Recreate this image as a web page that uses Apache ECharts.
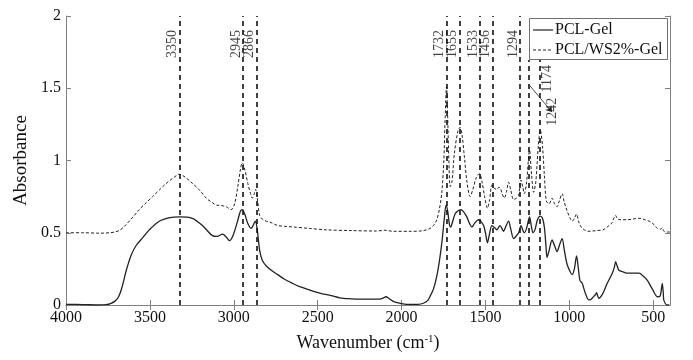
<!DOCTYPE html>
<html>
<head>
<meta charset="utf-8">
<script src="https://cdn.jsdelivr.net/npm/echarts@6/dist/echarts.min.js"></script>
<style>html,body{margin:0;padding:0;background:#fff}#c{width:693px;height:360px}</style>
</head>
<body>
<div id="c"></div>
<script>
// PCL-Gel (solid)
var pclWave = [4000,3900,3800,3760,3735,3710,3690,3675,3660,3643,3625,3610,3583,3540,3504,3444,3380,3325,3247,3187,3127,3100,3067,3045,3026,3005,2980,2960,2950,2935,2915,2896,2885,2872,2860,2846,2830,2806,2770,2738,2700,2650,2607,2550,2488,2420,2368,2300,2249,2180,2129,2110,2093,2075,2050,2000,1970,1900,1870,1845,1830,1810,1790,1775,1760,1745,1735,1725,1715,1707,1695,1681,1665,1647,1630,1611,1595,1581,1565,1541,1525,1511,1500,1488,1478,1462,1450,1440,1432,1420,1412,1400,1392,1380,1362,1350,1332,1315,1302,1288,1278,1268,1255,1237,1227,1217,1205,1190,1173,1160,1149,1140,1133,1120,1103,1088,1073,1060,1043,1030,1013,995,983,970,957,947,937,923,915,904,884,870,854,845,838,830,824,800,774,744,732,724,715,704,680,654,620,585,560,535,505,475,460,450,446,440,436,416,405];
var pclAbs = [0.005,0.003,0.0,0.003,0.01,0.025,0.05,0.09,0.15,0.23,0.3,0.35,0.41,0.47,0.52,0.58,0.605,0.61,0.60,0.55,0.48,0.475,0.49,0.47,0.445,0.48,0.57,0.65,0.66,0.63,0.56,0.53,0.55,0.58,0.52,0.38,0.31,0.27,0.235,0.21,0.18,0.15,0.127,0.105,0.083,0.065,0.05,0.043,0.04,0.04,0.041,0.048,0.057,0.045,0.025,0.01,0.005,0.005,0.012,0.03,0.06,0.11,0.2,0.3,0.43,0.6,0.69,0.65,0.56,0.54,0.58,0.63,0.65,0.66,0.645,0.61,0.565,0.54,0.565,0.59,0.575,0.55,0.5,0.43,0.48,0.55,0.54,0.53,0.52,0.54,0.55,0.525,0.51,0.54,0.58,0.53,0.46,0.48,0.5,0.55,0.52,0.5,0.53,0.61,0.55,0.5,0.52,0.59,0.615,0.6,0.54,0.42,0.33,0.38,0.45,0.41,0.37,0.41,0.46,0.38,0.28,0.23,0.21,0.25,0.34,0.26,0.17,0.15,0.12,0.08,0.035,0.04,0.06,0.07,0.085,0.06,0.046,0.08,0.15,0.22,0.26,0.30,0.27,0.24,0.23,0.22,0.22,0.22,0.2,0.17,0.11,0.057,0.06,0.12,0.15,0.08,0.03,0.0,0.0];
// PCL/WS2%-Gel (dashed)
var wsWave = [4000,3900,3800,3740,3710,3683,3660,3643,3600,3564,3520,3484,3440,3404,3360,3325,3290,3245,3200,3165,3130,3100,3085,3060,3045,3016,2995,2976,2960,2950,2935,2916,2900,2890,2878,2870,2860,2846,2830,2806,2787,2738,2700,2647,2550,2448,2300,2150,2099,2050,1950,1890,1850,1830,1810,1790,1775,1760,1748,1740,1732,1725,1718,1710,1700,1685,1665,1652,1640,1625,1610,1591,1575,1555,1536,1520,1505,1488,1475,1462,1450,1432,1420,1412,1400,1388,1375,1362,1350,1332,1315,1302,1288,1278,1268,1255,1237,1225,1213,1200,1185,1173,1160,1149,1137,1120,1103,1088,1073,1060,1043,1030,1013,995,983,970,957,945,930,910,890,860,838,800,774,745,735,724,715,704,654,620,585,550,515,490,475,455,446,436,416,400];
var wsAbs = [0.5,0.5,0.497,0.5,0.505,0.515,0.535,0.555,0.61,0.66,0.71,0.75,0.8,0.84,0.88,0.905,0.885,0.84,0.79,0.74,0.71,0.69,0.69,0.685,0.68,0.66,0.7,0.82,0.94,0.985,0.94,0.84,0.77,0.74,0.77,0.80,0.74,0.62,0.595,0.58,0.575,0.55,0.545,0.54,0.53,0.52,0.515,0.512,0.517,0.51,0.51,0.512,0.52,0.53,0.55,0.59,0.66,0.78,1.0,1.3,1.51,1.3,1.0,0.82,0.85,1.05,1.2,1.23,1.18,1.02,0.85,0.75,0.8,0.88,0.91,0.85,0.75,0.67,0.73,0.83,0.81,0.80,0.815,0.81,0.77,0.74,0.78,0.85,0.8,0.73,0.74,0.76,0.865,0.82,0.77,0.85,1.07,0.9,0.78,0.85,1.1,1.21,1.1,0.9,0.72,0.70,0.74,0.70,0.68,0.72,0.77,0.71,0.65,0.6,0.58,0.6,0.63,0.58,0.54,0.52,0.51,0.512,0.515,0.52,0.54,0.57,0.60,0.62,0.6,0.59,0.59,0.595,0.60,0.59,0.575,0.55,0.53,0.525,0.535,0.51,0.505,0.505];

// Peak marker lines
var peakPos = [3325,2945,2866,1732,1655,1533,1456,1294,1242,1174];
var peakLabels = ['3350','2945','2866','1732','1655','1533','1456','1294','1242','1174'];
var peakTop = [2,2,2,2,2,2,2,2,1.695,1.695];
// label anchors (wavenumber, absorbance, side)
var labelX = [3325,2945,2866,1732,1655,1533,1456,1294,1142,1174];
var labelY = [1.917,1.917,1.917,1.917,1.917,1.917,1.917,1.917,1.42,1.647];
var labelSide = ['left','left','left','left','left','left','left','left','right','right'];
// arrow from 1242 line to its label
var arrowFrom = [1237, 1.52];
var arrowTo = [1103, 1.335];

var xTicks = [4000,3500,3000,2500,2000,1500,1000,500];
var seriesNames = ['PCL-Gel','PCL/WS2%-Gel'];

function pairs(a,b){return a.map(function(v,i){return [v,b[i]];});}

var FONT = 'Liberation Serif';
var chart = echarts.init(document.getElementById('c'));

var peakMarkData = peakPos.map(function(p,i){
  return [{coord:[p,0]},{coord:[p,peakTop[i]]}];
});
var labelData = labelX.map(function(x,i){
  var left = labelSide[i]==='left';
  return {value:[x,labelY[i]], label:{
    show:true, formatter:peakLabels[i], rotate:90, position:[0,0],
    align:'right', verticalAlign: left ? 'bottom':'top',
    offset: left ? [-2,0] : [2,0]
  }};
});

var axisLineStyle = {color:'#808080', width:1};
var option = {
  animation:false,
  backgroundColor:'#fff',
  grid:{left:66, right:23, top:16, bottom:55, containLabel:false},
  graphic:[
    {type:'rect', shape:{x:529.5, y:18.5, width:138, height:41}, style:{fill:'#fff', stroke:'#707070', lineWidth:1}, z:10},
    {type:'line', shape:{x1:533, y1:30, x2:553, y2:30}, style:{stroke:'#222', lineWidth:1.2}, z:11},
    {type:'line', shape:{x1:533, y1:50, x2:553, y2:50}, style:{stroke:'#222', lineWidth:1, lineDash:[3,2]}, z:11},
    {type:'text', x:555, y:30, style:{text:seriesNames[0], font:'16px "Liberation Serif"', fill:'#111', verticalAlign:'middle'}, z:11},
    {type:'text', x:555, y:50, style:{text:seriesNames[1], font:'16px "Liberation Serif"', fill:'#111', verticalAlign:'middle'}, z:11}
  ],
  xAxis:[{
    type:'value', inverse:true, min:400, max:4000,
    axisLine:{show:true, lineStyle:axisLineStyle, onZero:false},
    axisTick:{show:true, inside:true, length:5, customValues:xTicks, lineStyle:axisLineStyle},
    axisLabel:{customValues:xTicks, formatter:function(v){return String(v);}, fontFamily:FONT, fontSize:16, color:'#111', margin:5},
    splitLine:{show:false},
    name:'Wavenumber (cm{sup|-1})', nameLocation:'middle', nameGap:29,
    nameTextStyle:{fontFamily:FONT, fontSize:18, color:'#111',
      rich:{sup:{fontFamily:FONT, fontSize:11, color:'#111', verticalAlign:'top', padding:[0,0,8,0]}}}
  },{
    type:'value', inverse:true, min:400, max:4000, position:'top',
    axisLine:{show:true, lineStyle:axisLineStyle},
    axisTick:{show:true, inside:true, length:5, customValues:xTicks, lineStyle:axisLineStyle},
    axisLabel:{show:false}, splitLine:{show:false}
  }],
  yAxis:[{
    type:'value', min:0, max:2, interval:0.5,
    axisLine:{show:true, lineStyle:axisLineStyle, onZero:false},
    axisTick:{show:true, inside:true, length:5, lineStyle:axisLineStyle},
    axisLabel:{fontFamily:FONT, fontSize:16, color:'#111', margin:5},
    splitLine:{show:false},
    name:'Absorbance', nameLocation:'middle', nameGap:31,
    nameTextStyle:{fontFamily:FONT, fontSize:19, color:'#111'}
  },{
    type:'value', min:0, max:2, interval:0.5, position:'right',
    axisLine:{show:true, lineStyle:axisLineStyle},
    axisTick:{show:true, inside:true, length:5, lineStyle:axisLineStyle},
    axisLabel:{show:false}, splitLine:{show:false}
  }],
  series:[
    {name:seriesNames[0], type:'line', data:pairs(pclWave,pclAbs), showSymbol:false, symbol:'none',
     smooth:0.3, lineStyle:{color:'#222', width:1.3, type:'solid'}, itemStyle:{color:'#222'}, z:3},
    {name:seriesNames[1], type:'line', data:pairs(wsWave,wsAbs), showSymbol:false, symbol:'none',
     smooth:0.3, lineStyle:{color:'#222', width:1, type:[3,2]}, itemStyle:{color:'#222'}, z:3},
    {type:'lines', coordinateSystem:'cartesian2d', data:[{coords:[arrowFrom, arrowTo]}], silent:true,
     symbol:['none','arrow'], symbolSize:6,
     lineStyle:{color:'#222', width:0.8, opacity:1}, z:4},
    {type:'scatter', data:labelData, symbolSize:0, silent:true,
     label:{show:true, fontFamily:FONT, fontSize:14, color:'#111'}, z:5,
     markLine:{silent:true, symbol:['none','none'], label:{show:false}, animation:false,
       lineStyle:{color:'#111', width:1.6, type:[5,4], opacity:1},
       emphasis:{disabled:true},
       data:peakMarkData}}
  ]
};
chart.setOption(option);
</script>
</body>
</html>
